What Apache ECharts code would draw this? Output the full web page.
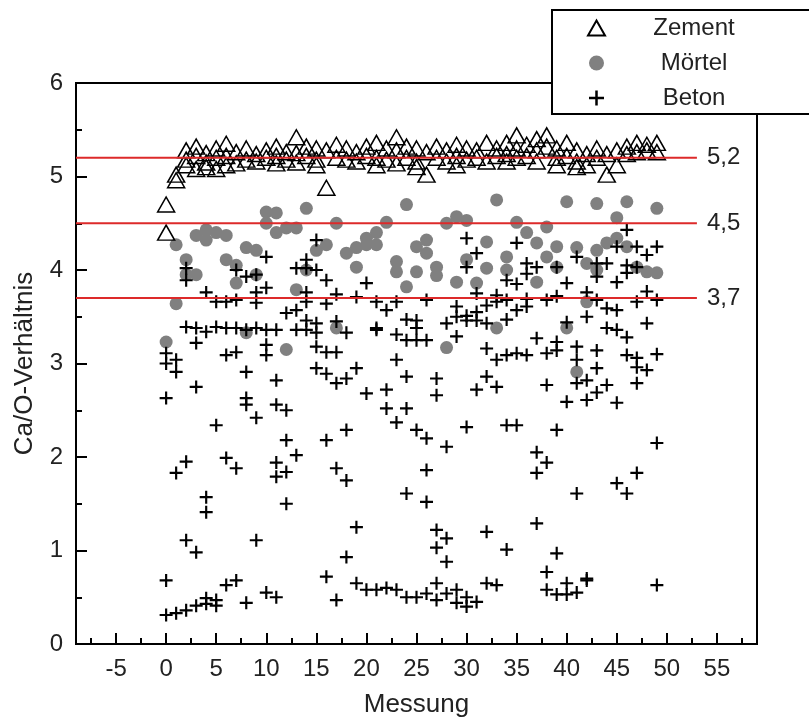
<!DOCTYPE html>
<html>
<head>
<meta charset="utf-8">
<script src="https://cdn.jsdelivr.net/npm/echarts@6.0.0/dist/echarts.min.js"></script>
<style>
  html, body { margin: 0; padding: 0; background: #fff; }
  #chart { width: 809px; height: 727px; }
</style>
</head>
<body>
<div id="chart"></div>
<script>
  // tick labels
  const xTicks = [-5, 0, 5, 10, 15, 20, 25, 30, 35, 40, 45, 50, 55];
  const xMinorTicks = [-7.5, -2.5, 2.5, 7.5, 12.5, 17.5, 22.5, 27.5, 32.5, 37.5, 42.5, 47.5, 52.5, 57.5];

  // reference levels (Ca/O)
  const refLevels = [5.2, 4.5, 3.7];
  const refLabels = ['5,2', '4,5', '3,7'];
  const refEnd = 53;

  const seriesNames = ['Zement', 'Mörtel', 'Beton'];

  // [Messung, Ca/O]
  const zement = [
    [0, 4.70], [0, 4.40], [1, 5.02], [1, 4.96],
    [2, 5.28], [2, 5.18], [2, 5.12], [3, 5.32], [3, 5.22], [3, 5.08],
    [4, 5.25], [4, 5.15], [4, 5.10], [5, 5.30], [5, 5.20], [5, 5.08],
    [6, 5.35], [6, 5.22], [6, 5.12], [7, 5.26], [7, 5.14], [8, 5.30], [8, 5.18],
    [9, 5.24], [9, 5.16], [10, 5.28], [10, 5.20], [11, 5.32], [11, 5.22], [11, 5.14],
    [12, 5.26], [12, 5.18], [13, 5.42], [13, 5.25], [13, 5.15], [14, 5.32], [14, 5.22],
    [15, 5.30], [15, 5.18], [15, 5.12], [16, 5.28], [16, 4.88], [17, 5.34], [17, 5.20],
    [18, 5.30], [18, 5.18], [19, 5.26], [19, 5.16], [20, 5.32], [20, 5.22],
    [21, 5.36], [21, 5.20], [21, 5.12], [22, 5.30], [22, 5.18], [23, 5.42], [23, 5.28], [23, 5.14],
    [24, 5.32], [24, 5.20], [25, 5.30], [25, 5.16], [25, 5.10], [26, 5.26], [26, 5.02],
    [27, 5.32], [27, 5.20], [28, 5.28], [28, 5.16], [29, 5.34], [29, 5.22], [29, 5.12],
    [30, 5.30], [30, 5.18], [31, 5.28], [31, 5.20], [32, 5.36], [32, 5.16], [33, 5.30], [33, 5.22],
    [34, 5.36], [34, 5.24], [34, 5.16], [35, 5.44], [35, 5.30], [35, 5.20], [36, 5.34], [36, 5.22],
    [37, 5.40], [37, 5.28], [37, 5.16], [38, 5.44], [38, 5.32], [39, 5.30], [39, 5.20], [39, 5.12],
    [40, 5.36], [40, 5.22], [41, 5.28], [41, 5.16], [41, 5.10], [42, 5.24], [42, 5.12],
    [43, 5.30], [43, 5.20], [44, 5.24], [44, 5.02], [45, 5.28], [45, 5.12], [46, 5.32], [46, 5.24],
    [47, 5.36], [47, 5.26], [48, 5.34], [48, 5.28], [49, 5.36], [49, 5.26]
  ];

  const moertel = [
    [10, 4.62], [11, 4.61], [14, 4.66], [10, 4.50], [17, 4.50], [11, 4.40], [12, 4.45], [13, 4.45],
    [3, 4.37], [4, 4.43], [5, 4.40], [6, 4.37], [4, 4.32], [1, 4.27], [2, 4.11], [2, 3.95], [3, 3.95],
    [0, 3.23], [1, 3.64], [6, 4.11], [7, 4.05], [7, 3.86], [8, 4.24], [9, 4.21], [9, 3.95],
    [13, 3.79], [14, 4.00], [15, 4.21], [16, 4.27], [18, 4.18], [19, 4.24], [20, 4.34], [21, 4.40],
    [19, 4.03], [8, 3.33], [12, 3.15], [17, 3.38],
    [24, 4.70], [33, 4.75], [40, 4.73], [43, 4.71], [46, 4.73], [49, 4.66], [22, 4.51], [28, 4.50],
    [29, 4.57], [30, 4.53], [35, 4.51], [38, 4.46], [45, 4.56], [20, 4.27], [21, 4.27],
    [25, 4.25], [26, 4.32], [26, 4.18], [32, 4.30], [36, 4.40], [37, 4.29], [39, 4.25], [41, 4.24],
    [43, 4.21], [44, 4.29], [45, 4.34], [46, 4.25], [23, 4.09], [23, 3.98], [25, 3.98], [27, 4.03],
    [27, 3.94], [30, 4.11], [32, 4.02], [34, 4.14], [34, 4.00], [37, 3.87], [38, 4.14], [39, 4.03],
    [42, 4.07], [43, 4.00], [47, 4.03], [48, 3.98], [49, 3.97], [24, 3.82], [29, 3.87], [31, 3.86],
    [42, 3.66], [33, 3.38], [40, 3.38], [28, 3.17], [41, 2.91]
  ];

  const beton = [
    [0, 0.31], [1, 0.33], [2, 0.36], [3, 0.41], [4, 0.43], [5, 0.41], [4, 0.49], [5, 0.47],
    [6, 0.63], [7, 0.68], [0, 0.68], [8, 0.44], [10, 0.55], [11, 0.50], [16, 0.72], [17, 0.47],
    [19, 0.65], [20, 0.58], [21, 0.58], [18, 0.93], [19, 1.25], [2, 1.11], [3, 0.98], [9, 1.11],
    [4, 1.57], [4, 1.41], [12, 1.50], [1, 1.83], [2, 1.95], [6, 1.99], [7, 1.88], [11, 1.94],
    [11, 1.79], [12, 1.84], [13, 2.02], [17, 1.88], [18, 1.75], [5, 2.34], [9, 2.42], [12, 2.18],
    [16, 2.18], [18, 2.29], [0, 2.63], [8, 2.63], [8, 2.56], [11, 2.56], [12, 2.50], [3, 2.75],
    [8, 2.91], [11, 2.82], [15, 2.95], [16, 2.89], [17, 2.79], [18, 2.84], [19, 2.95], [20, 2.68],
    [0, 3.00], [1, 3.04], [1, 2.91], [0, 3.11], [3, 3.22], [7, 3.12], [6, 3.09], [10, 3.20],
    [10, 3.09], [15, 3.18], [16, 3.12], [17, 3.12],
    [15, 4.32], [10, 4.14], [14, 4.11], [14, 4.02], [13, 4.02], [15, 4.00], [16, 3.89], [7, 4.00],
    [8, 3.93], [9, 3.95], [2, 4.02], [2, 3.89], [9, 3.76], [10, 3.81], [4, 3.76], [5, 3.66],
    [6, 3.66], [7, 3.68], [9, 3.65], [14, 3.76], [14, 3.66], [16, 3.64], [17, 3.74], [19, 3.71],
    [20, 3.86], [21, 3.66], [12, 3.54], [13, 3.57], [14, 3.46], [15, 3.43], [17, 3.45], [2, 3.39],
    [3, 3.38], [4, 3.34], [5, 3.39], [6, 3.38], [7, 3.38], [8, 3.36], [9, 3.38], [10, 3.36],
    [11, 3.36], [13, 3.36], [14, 3.36], [15, 3.33], [18, 3.33], [21, 3.36],
    [30, 4.34], [35, 4.29], [31, 4.18], [30, 4.03], [36, 4.07], [37, 4.03], [36, 3.96], [39, 4.03],
    [40, 3.86], [41, 4.14], [43, 4.07], [43, 3.93], [34, 3.89], [35, 3.85], [31, 3.75], [33, 3.73],
    [34, 3.68], [36, 3.69], [38, 3.68], [39, 3.72], [42, 3.76], [43, 3.68], [22, 3.57], [23, 3.66],
    [26, 3.68], [29, 3.61], [30, 3.51], [31, 3.55], [32, 3.62], [33, 3.66], [34, 3.47], [35, 3.57],
    [36, 3.61], [24, 3.47], [25, 3.46], [25, 3.38], [28, 3.43], [29, 3.50], [30, 3.46], [31, 3.46],
    [32, 3.43], [40, 3.44], [42, 3.50], [29, 3.29], [32, 3.16], [37, 3.27], [39, 3.23], [41, 3.18],
    [23, 3.04], [33, 3.04], [34, 3.09], [35, 3.11], [36, 3.09], [38, 3.11], [39, 3.14], [41, 3.04],
    [43, 3.14], [46, 3.09], [47, 3.06], [21, 3.38], [23, 3.31], [24, 3.25], [25, 3.25], [26, 3.25],
    [24, 2.86], [27, 2.84], [27, 2.66], [22, 2.72], [22, 2.52], [24, 2.52], [23, 2.37], [25, 2.29],
    [26, 2.20], [28, 2.11], [26, 1.86], [24, 1.61], [26, 1.52], [30, 2.32], [32, 2.86], [33, 2.75],
    [31, 2.72], [34, 2.34], [35, 2.34], [43, 2.95], [38, 2.77], [41, 2.79], [42, 2.82], [42, 2.61],
    [43, 2.69], [44, 2.77], [40, 2.59], [45, 2.58], [47, 2.96], [48, 2.93], [47, 2.79], [39, 2.29],
    [37, 2.05], [38, 1.94], [37, 1.83], [49, 2.15], [41, 1.61], [45, 1.72], [46, 1.61], [47, 1.83],
    [27, 1.22], [28, 1.13], [27, 1.03], [28, 0.88], [32, 1.20], [34, 1.01], [37, 1.29], [39, 0.97],
    [38, 0.77], [42, 0.70], [22, 0.60], [23, 0.58], [24, 0.50], [25, 0.50], [26, 0.54], [27, 0.65],
    [27, 0.47], [28, 0.54], [29, 0.58], [29, 0.44], [30, 0.50], [30, 0.40], [31, 0.45], [32, 0.65],
    [33, 0.63], [38, 0.58], [39, 0.53], [40, 0.65], [40, 0.53], [41, 0.55], [42, 0.68], [49, 0.63],
    [46, 4.43], [45, 4.25], [47, 4.25], [49, 4.25], [48, 4.16], [44, 4.07], [46, 4.05], [47, 4.03],
    [45, 3.87], [46, 3.97], [48, 3.77], [49, 3.68], [47, 3.66], [44, 3.59], [45, 3.57], [44, 3.38],
    [45, 3.36], [46, 3.28], [48, 3.43], [49, 3.10]
  ];

  const xMin = -9, xMax = 59;
  const font = 'Liberation Sans, Arial, sans-serif';
  const textColor = '#222';
  const plusPath = 'path://M5,0H7V5H12V7H7V12H5V7H0V5H5Z';

  const refSeries = refLevels.map((lv, i) => ({
    type: 'line',
    name: 'ref' + i,
    data: [[xMin, lv], [refEnd, lv]],
    symbol: 'none',
    silent: true,
    z: 5,
    lineStyle: { color: '#dd2a2a', width: 2 },
    endLabel: {
      show: true,
      formatter: refLabels[i],
      distance: 10,
      fontSize: 24,
      fontFamily: font,
      color: textColor
    }
  }));

  const init = () => {
    const option = {
      animation: false,
      backgroundColor: '#fff',
      grid: {
        left: 76, right: 52, top: 83, bottom: 83,
        show: true, borderColor: '#000', borderWidth: 2,
        outerBoundsMode: 'none'
      },
      legend: {
        data: seriesNames,
        orient: 'vertical',
        left: 552,
        top: 10,
        backgroundColor: '#fff',
        borderColor: '#000',
        borderWidth: 2,
        borderRadius: 0,
        padding: [4, 40, 2, 35],
        itemGap: 7,
        itemWidth: 17,
        itemHeight: 15,
        z: 10,
        textStyle: {
          fontFamily: font,
          fontSize: 24,
          color: textColor,
          lineHeight: 28,
          rich: {
            c: { width: 168, align: 'center', fontSize: 24, fontFamily: font, color: textColor, lineHeight: 28 }
          }
        },
        formatter: (name) => '{c|' + name + '}'
      },
      xAxis: [
        {
          type: 'value',
          min: xMin,
          max: xMax,
          name: 'Messung',
          nameLocation: 'middle',
          nameGap: 48,
          nameTextStyle: { fontFamily: font, fontSize: 26, color: textColor },
          axisLine: { onZero: false, lineStyle: { color: '#000', width: 2 } },
          axisTick: { inside: true, length: 11, customValues: xTicks, lineStyle: { color: '#000', width: 2 } },
          axisLabel: { customValues: xTicks, margin: 13, fontFamily: font, fontSize: 24, color: textColor },
          splitLine: { show: false }
        },
        {
          type: 'value',
          min: xMin,
          max: xMax,
          position: 'bottom',
          axisLine: { show: false, onZero: false },
          axisTick: { inside: true, length: 6, customValues: xMinorTicks, lineStyle: { color: '#000', width: 2 } },
          axisLabel: { show: false },
          splitLine: { show: false }
        }
      ],
      yAxis: {
        type: 'value',
        min: 0,
        max: 6,
        interval: 1,
        name: 'Ca/O-Verhältnis',
        nameLocation: 'middle',
        nameGap: 38,
        nameTextStyle: { fontFamily: font, fontSize: 26, color: textColor },
        axisLine: { show: true, onZero: false, lineStyle: { color: '#000', width: 2 } },
        axisTick: { inside: true, length: 11, lineStyle: { color: '#000', width: 2 } },
        minorTick: { show: true, splitNumber: 2, length: 6, lineStyle: { color: '#000', width: 2 } },
        axisLabel: { margin: 13, fontFamily: font, fontSize: 24, color: textColor },
        splitLine: { show: false }
      },
      series: [
        {
          name: seriesNames[0],
          type: 'scatter',
          data: zement,
          symbol: 'triangle',
          symbolSize: [17, 15],
          z: 3,
          itemStyle: { color: 'rgba(255,255,255,0)', borderColor: '#000', borderWidth: 1.5, opacity: 1 }
        },
        {
          name: seriesNames[1],
          type: 'scatter',
          data: moertel,
          symbol: 'circle',
          symbolSize: 13,
          z: 2,
          itemStyle: { color: '#808080', opacity: 1 }
        },
        {
          name: seriesNames[2],
          type: 'scatter',
          data: beton,
          symbol: plusPath,
          symbolSize: 13,
          z: 4,
          itemStyle: { color: '#000', opacity: 1 }
        }
      ].concat(refSeries)
    };
    const myChart = echarts.init(document.getElementById('chart'), null, { renderer: 'canvas' });
    myChart.setOption(option);
  };

  init();
</script>
</body>
</html>
